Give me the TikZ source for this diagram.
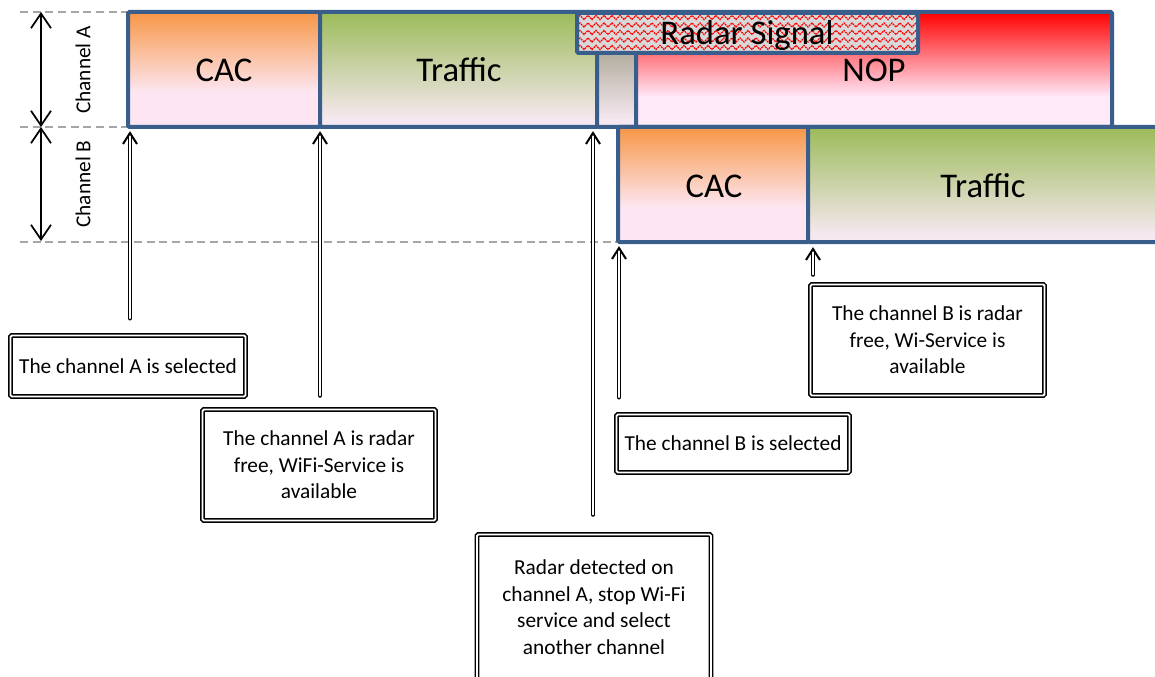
\documentclass[tikz,border=0pt]{standalone}
\usepackage{fontspec}
\setmainfont{Carlito}
\usetikzlibrary{arrows.meta,decorations.pathmorphing,fit,calc}
\definecolor{bord}{HTML}{3A5E8C}
\definecolor{orT}{HTML}{F79646}
\definecolor{pkC}{HTML}{FDE6F2}
\definecolor{grT}{HTML}{9BBB59}
\definecolor{pkT}{HTML}{F6E8F0}
\definecolor{gyT}{HTML}{8A8A6E}
\definecolor{rdT}{HTML}{FF0000}
\definecolor{pkN}{HTML}{FFEAFA}
\definecolor{rsig}{HTML}{D9D9D9}
\definecolor{dashgray}{HTML}{A6A6A6}
\pgfdeclareverticalshading{shCAC}{100bp}{color(0bp)=(pkC); color(40bp)=(pkC); color(75bp)=(orT); color(100bp)=(orT)}
\pgfdeclareverticalshading{shTRF}{100bp}{color(0bp)=(pkT); color(28bp)=(pkT); color(75bp)=(grT); color(100bp)=(grT)}
\pgfdeclareverticalshading{shGRY}{100bp}{color(0bp)=(pkT); color(28bp)=(pkT); color(75bp)=(gyT); color(100bp)=(gyT)}
\pgfdeclareverticalshading{shNOP}{100bp}{color(0bp)=(pkN); color(38bp)=(pkN); color(75bp)=(rdT); color(100bp)=(rdT)}
\begin{document}
\begin{tikzpicture}[x=0.75pt,y=-0.75pt,
  seg/.style={draw=bord, line width=3pt, inner sep=0pt, rounded corners=1pt},
  big/.style={font=\fontsize{26}{30}\selectfont, inner sep=0pt},
  note/.style={draw, double, double distance=1.4pt, line width=1.1pt, rounded corners=1pt, align=center, inner sep=0pt, font=\fontsize{16}{20}\selectfont},
  shaft/.style={line width=1.1pt, double=white, double distance=1.4pt, line cap=round, shorten >=2pt},
  headst/.style={line width=1.5pt, line join=miter},
  guide/.style={draw=dashgray, line width=1.4pt, dash pattern=on 6pt off 3.5pt},
  span/.style={{Straight Barb[length=11pt,width=15pt]}-{Straight Barb[length=11pt,width=15pt]}, line width=1.3pt},
  chl/.style={rotate=90, font=\fontsize{16}{18}\selectfont}
]
\useasboundingbox (0,0) rectangle (1155,677);

% guides
\draw[guide] (20,12) -- (128,12);
\draw[guide] (20,127) -- (128,127);
\draw[guide] (20,242) -- (618,242);

% channel spans
\coordinate (aT) at (41,12);
\coordinate (aM) at (41,127);
\coordinate (aB) at (41,241);
\draw[span] (aT) -- (aM);
\draw[span] (aM) -- (aB);
\node[chl] (lA) at (83,70) {Channel A};
\node[chl] (lB) at (83,184) {Channel B};

% channel A bar
\node[seg, shade, shading=shCAC, fit={(128,12)(320,127)}] (cacA) {};
\node[seg, shade, shading=shTRF, fit={(320,12)(597,127)}] (trfA) {};
\node[seg, shade, shading=shGRY, fit={(597,12)(636,127)}] (gap) {};
\node[seg, shade, shading=shNOP, fit={(636,12)(1112,127)}] (nop) {};
\node[big] (cacAt) at (224,70) {CAC};
\node[big] (trfAt) at (459,70) {Traffic};
\node[big] (nopt) at (874,70) {NOP};

% channel B bar
\node[seg, shade, shading=shCAC, fit={(618,127)(808,242)}] (cacB) {};
\node[seg, shade, shading=shTRF, fit={(808,127)(1162,242)}] (trfB) {};
\node[big] (cacBt) at (714,186) {CAC};
\node[big] (trfBt) at (983,186) {Traffic};

% radar signal
\fill[rsig] (577,13) rectangle (918,53);
\begin{scope}
\clip (577,13) rectangle (918,53);
\foreach \yy in {17.5,25,32.5,40,47.5}
  \draw[red, line width=0.9pt, dash pattern=on 1.4pt off 0.6pt, decorate, decoration={zigzag, segment length=6pt, amplitude=1.6pt}] (570,\yy) -- (930,\yy);
\end{scope}
\node[seg, fit={(577,13)(918,53)}] (radar) {};
\node[big] (radart) at (747,35) {Radar Signal};

% notes
\node[note, minimum width=176.25pt, minimum height=45.75pt] (b1) at (128,366) {The channel A is selected};
\node[note, minimum width=174.75pt, minimum height=83.25pt] (b2) at (319,465) {The channel A is radar\\free, WiFi-Service is\\available};
\node[note, minimum width=175.5pt, minimum height=108.75pt] (b3) at (594,607) {Radar detected on\\channel A, stop Wi-Fi\\service and select\\another channel};
\node[note, minimum width=174.75pt, minimum height=43.5pt] (b4) at (733,443.5) {The channel B is selected};
\node[note, minimum width=175.5pt, minimum height=83.25pt] (b5) at (927.5,340) {The channel B is radar\\free, Wi-Service is\\available};

% arrows
\coordinate (t1) at (130,133);
\coordinate (t2) at (320,133);
\coordinate (t3) at (593,133);
\coordinate (t4) at (619,248);
\coordinate (t5) at (813,249);
\draw[shaft, shorten <=12.5pt] (t1 |- b1.north) -- (t1);
\draw[shaft, shorten <=10pt] (t2 |- b2.north) -- (t2);
\draw[shaft, shorten <=14.5pt] (t3 |- b3.north) -- (t3);
\draw[shaft, shorten <=12.5pt] (t4 |- b4.north) -- (t4);
\draw[shaft, shorten <=7pt] (t5 |- b5.north) -- (t5);
\foreach \t in {t1,t2,t3,t4,t5}
  \draw[headst] ($(\t)+(-7,11)$) -- (\t) -- ($(\t)+(7,11)$);
\end{tikzpicture}
\end{document}
